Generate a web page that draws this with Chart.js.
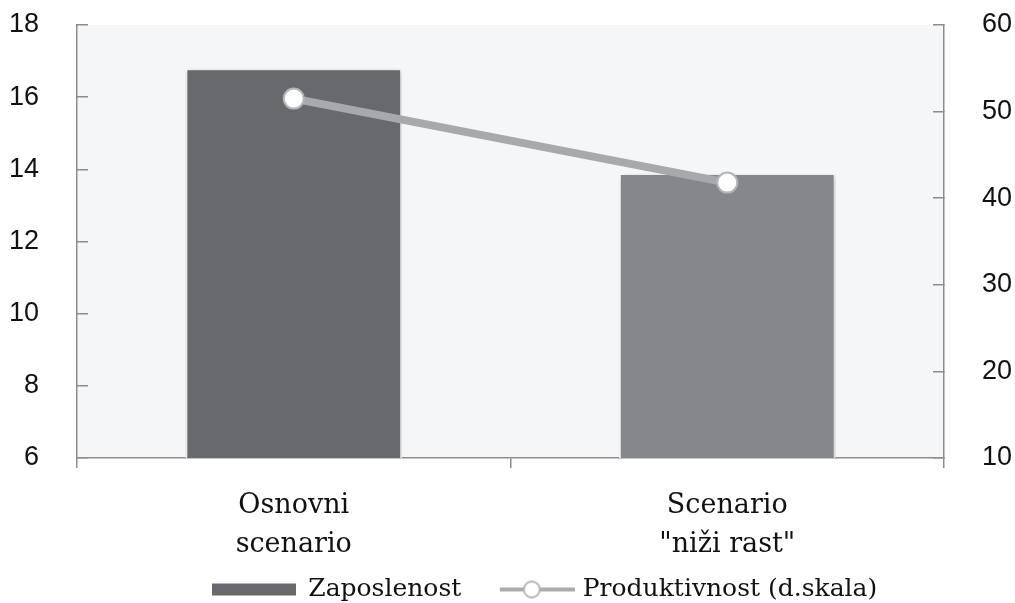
<!DOCTYPE html>
<html>
<head>
<meta charset="utf-8">
<script src="https://cdn.jsdelivr.net/npm/chart.js@4/dist/chart.umd.min.js"></script>
<style>
  html, body { margin: 0; padding: 0; background: #fff; }
  #wrap { width: 1015px; height: 603px; }
</style>
</head>
<body>
<div id="wrap"><canvas id="chart" width="1015" height="603"></canvas></div>
<script>
const categories = [["Osnovni", "scenario"], ["Scenario", "\"niži rast\""]];
const zaposlenost = [16.8, 13.9];
const produktivnost = [51.5, 41.8];
const leftTicks = [6, 8, 10, 12, 14, 16, 18];
const rightTicks = [10, 20, 30, 40, 50, 60];

const tickFont = { family: "'Liberation Sans', sans-serif", size: 27 };
const textFont = { family: "'DejaVu Serif', serif", size: 27, lineHeight: 1.45 };
const legendFont = { family: "'DejaVu Serif', serif", size: 25 };

// legend markers drawn to small canvases
function barMarker() {
    const c = document.createElement("canvas");
    c.width = 84; c.height = 14;
    const g = c.getContext("2d");
    g.fillStyle = "#68696d";
    g.fillRect(0, 1, 84, 12);
    return c;
}
function lineMarker() {
    const c = document.createElement("canvas");
    c.width = 93; c.height = 22;
    const g = c.getContext("2d");
    g.strokeStyle = "#a9acaf";
    g.lineWidth = 4;
    g.beginPath(); g.moveTo(18, 11); g.lineTo(93, 11); g.stroke();
    g.fillStyle = "#fff";
    g.strokeStyle = "#b3b6b9";
    g.lineWidth = 2;
    g.beginPath(); g.arc(50, 11, 8, 0, Math.PI * 2); g.fill(); g.stroke();
    return c;
}

const plotBg = {
    id: "plotBg",
    beforeDraw(chart) {
        const a = chart.chartArea, ctx = chart.ctx;
        ctx.save();
        ctx.fillStyle = "#f5f6f7";
        ctx.fillRect(a.left, a.top, a.right - a.left, a.bottom - a.top);
        ctx.restore();
    },
    afterLayout(chart) {
        // legend sits a bit right of centre and lower in the original
        const lg = chart.legend;
        const h = lg.bottom - lg.top;
        lg.left += 32;
        lg.right += 32;
        lg.top = 552;
        lg.bottom = lg.top + h;
        // let the two-line category labels run past the axis box
        chart.scales.x.bottom = chart.height;
    },
    beforeDatasetDraw(chart, args) {
        const ctx = chart.ctx;
        ctx.save();
        if (args.index === 1) {
            ctx.shadowColor = "rgba(0,0,0,0.25)";
            ctx.shadowBlur = 6;
            ctx.shadowOffsetX = 1;
            ctx.shadowOffsetY = 1;
        }
    },
    afterDatasetDraw(chart) {
        chart.ctx.restore();
    }
};

const ctx = document.getElementById("chart").getContext("2d");
const myChart = new Chart(ctx, {
    type: "bar",
    data: {
        labels: categories,
        datasets: [
            {
                type: "line",
                label: "Produktivnost (d.skala)",
                data: produktivnost,
                yAxisID: "y1",
                order: 0,
                borderColor: "#a7aaad",
                borderWidth: 8,
                pointRadius: 10,
                pointBorderWidth: 2,
                pointBackgroundColor: "#ffffff",
                pointBorderColor: "#b3b6b9",
            },
            {
                label: "Zaposlenost",
                data: zaposlenost,
                yAxisID: "y",
                order: 1,
                backgroundColor: ["#68696d", "#86878b"],
                borderColor: "#ffffff",
                borderWidth: 2,
                borderSkipped: "bottom",
                categoryPercentage: 1,
                barPercentage: 0.5,
            },
        ],
    },
    options: {
        responsive: false,
        animation: false,
        layout: { padding: { left: 10, right: 0, top: 25, bottom: 2 } },
        plugins: {
            tooltip: { enabled: false },
            legend: {
                position: "bottom",
                labels: {
                    usePointStyle: true,
                    pointStyleWidth: 84,
                    font: legendFont,
                    color: "#111",
                    padding: 25,
                    generateLabels(chart) {
                        return [
                            { text: "Zaposlenost", pointStyle: barMarker(), datasetIndex: 1, fontColor: "#111", lineWidth: 0 },
                            { text: "Produktivnost (d.skala)", pointStyle: lineMarker(), datasetIndex: 0, fontColor: "#111", lineWidth: 0 },
                        ];
                    },
                },
            },
        },
        scales: {
            x: {
                afterFit(axis) { axis.height = 83; },
                grid: { display: true, drawOnChartArea: false, offset: true, tickLength: 10, color: "#8c8c8c", lineWidth: 1.5 },
                border: { color: "#8c8c8c", width: 1.5 },
                ticks: { font: textFont, color: "#111", padding: 18, maxRotation: 0 },
            },
            y: {
                position: "left",
                min: 6, max: 18,
                afterBuildTicks(axis) { axis.ticks = leftTicks.map(v => ({ value: v })); },
                afterFit(axis) { axis.width = 67; axis.paddingTop = 0; axis.paddingBottom = 0; },
                grid: { drawOnChartArea: false, tickLength: -11, color: "#8c8c8c", lineWidth: 1.5 },
                border: { color: "#8c8c8c", width: 1.5 },
                ticks: { font: tickFont, color: "#111", padding: 49 },
            },
            y1: {
                position: "right",
                min: 10, max: 60,
                afterBuildTicks(axis) { axis.ticks = rightTicks.map(v => ({ value: v })); },
                afterFit(axis) { axis.width = 71; axis.paddingTop = 0; axis.paddingBottom = 0; },
                grid: { drawOnChartArea: false, tickLength: -11, color: "#8c8c8c", lineWidth: 1.5 },
                border: { color: "#8c8c8c", width: 1.5 },
                ticks: { font: tickFont, color: "#111", padding: 49 },
            },
        },
    },
    plugins: [plotBg],
});
</script>
</body>
</html>
